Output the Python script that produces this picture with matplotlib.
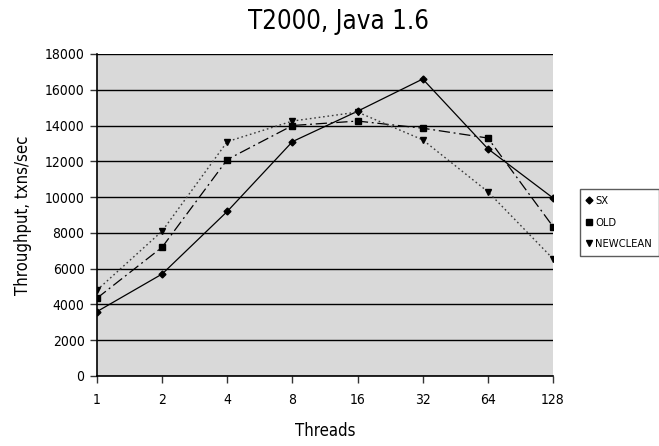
import numpy as np
import matplotlib
matplotlib.use("Agg")
import matplotlib.pyplot as plt
from matplotlib.lines import Line2D

# data
threads = ["1", "2", "4", "8", "16", "32", "64", "128"]
sx = [3600, 5700, 9200, 13100, 14800, 16600, 12700, 9950]
old = [4350, 7200, 12100, 14000, 14250, 13850, 13300, 8350]
newclean = [4800, 8100, 13100, 14250, 14750, 13200, 10300, 6550]

plt.rcParams['font.family'] = ['DejaVu Sans']
plt.rcParams['font.stretch'] = 'condensed'

fig = plt.figure(figsize=(6.59, 4.46), dpi=100)
ax = fig.add_axes([0.1472, 0.157, 0.692, 0.722])
ax.set_facecolor('#d9d9d9')

x = np.arange(len(threads))
ax.plot(x, sx, color='black', lw=0.9, ls='-', marker='D', ms=3.5, label='SX')
ax.plot(x, old, color='black', lw=0.9, ls=(0, (9, 3, 1.5, 3)), marker='s', ms=5, label='OLD')
ax.plot(x, newclean, color='#3a3a3a', lw=1.0, ls=(0, (1.2, 2)), marker='v', ms=5,
        markerfacecolor='black', markeredgecolor='black', label='NEWCLEAN')

ax.set_xlim(0, 7)
ax.set_ylim(0, 18000)
ax.set_yticks(np.arange(0, 18001, 2000))
ax.set_xticks(x)
ax.set_xticklabels(threads)
ax.yaxis.grid(True, color='black', lw=1.0)
ax.set_axisbelow(True)
for s in ['top', 'right']:
    ax.spines[s].set_visible(False)
ax.spines['left'].set_linewidth(1.2)
ax.spines['bottom'].set_linewidth(1.2)
ax.tick_params(axis='both', labelsize=10, length=5, width=1, color='#333333', pad=4)
ax.tick_params(axis='x', pad=7)

ax.set_xlabel('Threads', fontsize=12, labelpad=11)
ax.set_ylabel('Throughput, txns/sec', fontsize=12, labelpad=9)
fig.text(0.513, 0.951, 'T2000, Java 1.6', fontsize=18.5, ha='center', va='center')

handles = [
    Line2D([], [], ls='none', marker='D', ms=3.5, color='black'),
    Line2D([], [], ls='none', marker='s', ms=4.5, color='black'),
    Line2D([], [], ls='none', marker='v', ms=4.5, color='black'),
]
leg = fig.legend(handles, ['SX', 'OLD', 'NEWCLEAN'], loc='center left',
                 bbox_to_anchor=(0.880, 0.501), fontsize=8, frameon=True,
                 fancybox=False, handlelength=0.4, handletextpad=0.35,
                 borderpad=0.65, labelspacing=1.05, borderaxespad=0)
leg.get_frame().set_edgecolor('#333333')
leg.get_frame().set_linewidth(1.0)

fig.savefig('out.png', dpi=100)
